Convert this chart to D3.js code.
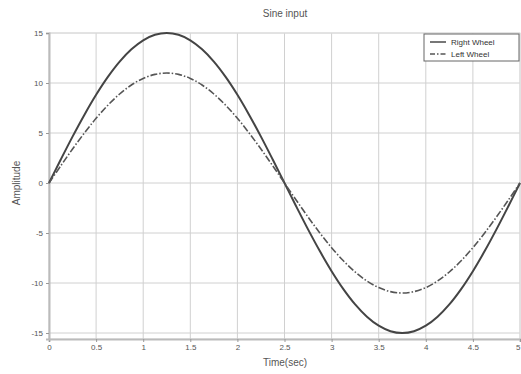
<!DOCTYPE html>
<html><head><meta charset="utf-8">
<script src="https://cdn.jsdelivr.net/npm/d3@7"></script>
<style>body{margin:0;background:#fff}svg{display:block}text{font-family:"Liberation Sans",Arial,sans-serif;fill:#555}</style>
</head><body>
<svg id="c" width="521" height="374"></svg>
<script>
const time = [0,0.125,0.25,0.375,0.5,0.625,0.75,0.875,1,1.125,1.25,1.375,1.5,1.625,1.75,1.875,2,2.125,2.25,2.375,2.5,2.625,2.75,2.875,3,3.125,3.25,3.375,3.5,3.625,3.75,3.875,4,4.125,4.25,4.375,4.5,4.625,4.75,4.875,5];
const rightWheel = [0,2.35,4.64,6.81,8.82,10.61,12.14,13.37,14.27,14.82,15,14.82,14.27,13.37,12.14,10.61,8.82,6.81,4.64,2.35,0,-2.35,-4.64,-6.81,-8.82,-10.61,-12.14,-13.37,-14.27,-14.82,-15,-14.82,-14.27,-13.37,-12.14,-10.61,-8.82,-6.81,-4.64,-2.35,0];
const leftWheel = [0,1.72,3.40,4.99,6.47,7.78,8.90,9.80,10.46,10.86,11,10.86,10.46,9.80,8.90,7.78,6.47,4.99,3.40,1.72,0,-1.72,-3.40,-4.99,-6.47,-7.78,-8.90,-9.80,-10.46,-10.86,-11,-10.86,-10.46,-9.80,-8.90,-7.78,-6.47,-4.99,-3.40,-1.72,0];
const xTicks = [0,0.5,1,1.5,2,2.5,3,3.5,4,4.5,5];
const yTicks = [-15,-10,-5,0,5,10,15];
const seriesNames = ["Right Wheel","Left Wheel"];

const svg = d3.select("#c");
const L=49, R=520, T=33, B=339;
const x = d3.scaleLinear().domain([0,5]).range([L,R]);
const y = d3.scaleLinear().domain([-15.6,15]).range([B,T]);

// grid
const g = svg.append("g");
g.selectAll(".gx").data(xTicks).join("line")
 .attr("x1",d=>x(d)).attr("x2",d=>x(d)).attr("y1",T).attr("y2",B)
 .attr("stroke","#d0d0d0").attr("stroke-width",1);
g.selectAll(".gy").data(yTicks).join("line")
 .attr("x1",L).attr("x2",R).attr("y1",d=>y(d)).attr("y2",d=>y(d))
 .attr("stroke","#d0d0d0").attr("stroke-width",1);

// frame
svg.append("rect").attr("x",L).attr("y",T).attr("width",R-L).attr("height",B-T)
 .attr("fill","none").attr("stroke","#ddd").attr("stroke-width",1);

// axes
const xAxis = d3.axisBottom(x).tickValues(xTicks).tickSize(3).tickFormat(d=>d3.format("")(d));
const yAxis = d3.axisLeft(y).tickValues(yTicks).tickSize(3).tickFormat(d=>d);
const gx = svg.append("g").attr("transform",`translate(0,${B})`).call(xAxis);
const gy = svg.append("g").attr("transform",`translate(${L},0)`).call(yAxis);
[gx,gy].forEach(a=>{
  a.select(".domain").attr("stroke","#bbb").attr("stroke-width",2);
  a.selectAll(".tick line").attr("stroke","#999");
  a.selectAll("text").attr("font-size",8).style("fill","#555");
});
gx.selectAll(".tick text").attr("dy","0.6em")
  .attr("text-anchor",d=>d===5?"end":"middle");

// lines
const line = d3.line().x((d,i)=>x(time[i])).y(d=>y(d)).curve(d3.curveCatmullRom);
svg.append("path").datum(rightWheel).attr("d",line).attr("fill","none")
 .attr("stroke","#444").attr("stroke-width",2);
svg.append("path").datum(leftWheel).attr("d",line).attr("fill","none")
 .attr("stroke","#555").attr("stroke-width",1.6).attr("stroke-dasharray","7,2,1.5,2");

// title & labels
svg.append("text").attr("x",285).attr("y",17).attr("text-anchor","middle").attr("font-size",10).text("Sine input");
svg.append("text").attr("x",285).attr("y",366).attr("text-anchor","middle").attr("font-size",10).text("Time(sec)");
svg.append("text").attr("transform","translate(20,183) rotate(-90)").attr("text-anchor","middle").attr("font-size",10).text("Amplitude");

// legend
const lg = svg.append("g").attr("transform","translate(424,34)");
lg.append("rect").attr("width",95).attr("height",27).attr("fill","#fff").attr("stroke","#666").attr("stroke-width",1);
seriesNames.forEach((n,i)=>{
  const yy = 8 + i*12;
  lg.append("line").attr("x1",6).attr("x2",22).attr("y1",yy).attr("y2",yy)
   .attr("stroke","#555").attr("stroke-width",1.6).attr("stroke-dasharray",i?"5,2,1.5,2":null);
  lg.append("text").attr("x",27).attr("y",yy+3).attr("font-size",8).style("fill","#333").text(n);
});
</script>
</body></html>
